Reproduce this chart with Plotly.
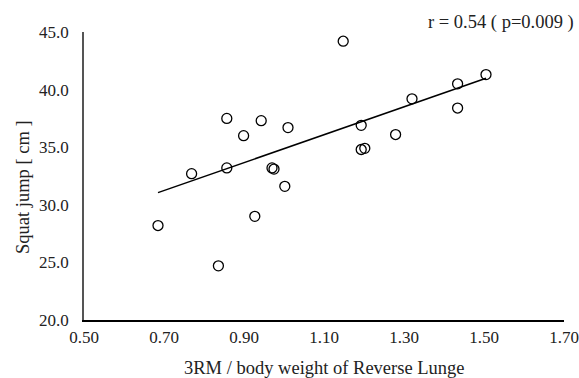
import plotly.graph_objects as go

# Data
ratio = [0.857, 0.943, 0.899, 1.010, 0.769, 0.857, 0.970, 0.975, 1.002, 1.148,
         1.505, 1.434, 1.320, 1.434, 1.193, 1.279, 1.193, 1.202, 0.685, 0.927, 0.836]
squat_jump = [37.5, 37.3, 36.0, 36.7, 32.7, 33.2, 33.2, 33.1, 31.6, 44.2,
              41.3, 40.5, 39.2, 38.4, 36.9, 36.1, 34.8, 34.9, 28.2, 29.0, 24.7]
# trendline as drawn in the reference (slope / intercept)
trend_slope = 12.10
trend_intercept = 22.77
x_ticks = [0.50, 0.70, 0.90, 1.10, 1.30, 1.50, 1.70]
y_ticks = [20.0, 25.0, 30.0, 35.0, 40.0, 45.0]
stat_label = "r = 0.54 ( p=0.009 )"
x_title = "3RM / body weight of Reverse Lunge"
y_title = "Squat jump [ cm ]"

fit_x = [min(ratio), max(ratio)]
fit_y = [trend_slope * v + trend_intercept for v in fit_x]

FONT = "Liberation Serif"
TXT = dict(family=FONT, size=17, color="#222")
BIG = dict(family=FONT, size=18.5, color="#222")

fig = go.Figure()
fig.add_trace(go.Scatter(x=fit_x, y=fit_y, mode="lines",
                         line=dict(color="black", width=1.5), showlegend=False))
fig.add_trace(go.Scatter(x=ratio, y=squat_jump, mode="markers",
                         marker=dict(symbol="circle-open", size=10, color="black",
                                     line=dict(width=1.3)),
                         showlegend=False))

fig.update_layout(
    width=579, height=378,
    margin=dict(l=84, r=15, t=32, b=58),
    plot_bgcolor="white", paper_bgcolor="white",
    font=TXT,
    xaxis=dict(range=[0.5, 1.7], tickvals=x_ticks,
               ticktext=[f"{v:.2f}" for v in x_ticks],
               showgrid=False, zeroline=False, showline=True,
               linecolor="black", linewidth=1.5, ticks="", ticklen=0,
               ticklabelstandoff=1, automargin=False),
    yaxis=dict(range=[20, 45], tickvals=y_ticks,
               ticktext=[f"{v:.1f}" for v in y_ticks],
               showgrid=False, zeroline=False, showline=True,
               linecolor="#555", linewidth=1.5, ticks="", ticklen=0,
               ticklabelstandoff=10, automargin=False),
    annotations=[
        dict(text=stat_label, xref="paper", yref="paper",
             x=1.0, y=1.0, xanchor="right", yanchor="middle",
             xshift=12, yshift=10, showarrow=False, font=BIG),
        dict(text=x_title, xref="paper", yref="paper",
             x=0.5, y=0.0, xanchor="center", yanchor="middle",
             yshift=-48, showarrow=False, font=BIG),
        dict(text=y_title, xref="paper", yref="paper", textangle=-90,
             x=0.0, y=0.5, xanchor="center", yanchor="middle",
             xshift=-61, yshift=-11, showarrow=False, font=BIG),
    ],
)

fig.write_html("out.html", config={"displayModeBar": False},
               post_script="document.body.style.margin='0';document.body.style.overflow='hidden';")
